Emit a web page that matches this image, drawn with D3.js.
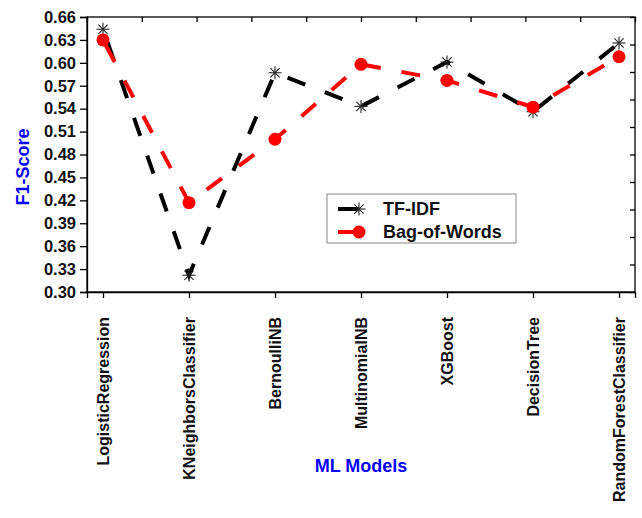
<!DOCTYPE html>
<html>
<head>
<meta charset="utf-8">
<script src="https://cdn.jsdelivr.net/npm/d3@7"></script>
<style>
  body { margin: 0; background: #fff; }
  svg text { font-family: "Liberation Sans", Arial, sans-serif; font-weight: bold; }
</style>
</head>
<body>
<div id="chart"></div>
<script>
// valores
const models = ['LogisticRegression', 'KNeighborsClassifier', 'BernoulliNB', 'MultinomialNB', 'XGBoost', 'DecisionTree', 'RandomForestClassifier'];
const tfidf = [0.644, 0.322, 0.587, 0.543, 0.601, 0.536, 0.626];
const bow = [0.630, 0.417, 0.500, 0.598, 0.577, 0.542, 0.608];
const yTicks = [0.30, 0.33, 0.36, 0.39, 0.42, 0.45, 0.48, 0.51, 0.54, 0.57, 0.60, 0.63, 0.66];

const width = 642;
const height = 518;
const margin = { top: 17, right: 7, bottom: 226, left: 87 };
const w = width - margin.left - margin.right;
const h = height - margin.top - margin.bottom;

const svg = d3.select('#chart').append('svg')
  .attr('width', width)
  .attr('height', height);

const g = svg.append('g').attr('transform', `translate(${margin.left},${margin.top})`);

const x = d3.scalePoint().domain(models).range([0, w]).padding(0.186);
const y = d3.scaleLinear().domain([0.30, 0.66]).range([h, 0]);

// marco con ticks interiores arriba y a la derecha
const frame = d3.scaleLinear().domain([0, 10]).range([0, w]);
const frameY = d3.scaleLinear().domain([0, 10]).range([h, 0]);

g.append('g')
  .call(d3.axisTop(frame).ticks(10).tickSize(-5).tickFormat(''))
  .call((s) => s.select('.domain').remove());
g.append('g')
  .attr('transform', `translate(${w},0)`)
  .call(d3.axisRight(frameY).ticks(10).tickSize(-5).tickFormat(''))
  .call((s) => s.select('.domain').remove());

g.append('rect')
  .attr('width', w)
  .attr('height', h)
  .attr('fill', 'none')
  .attr('stroke', '#000')
  .attr('stroke-width', 1.3);

const yAxis = g.append('g')
  .call(d3.axisLeft(y).tickValues(yTicks).tickSize(7).tickPadding(4).tickFormat(d3.format('.2f')));
yAxis.selectAll('text').attr('font-size', 16.5).attr('fill', '#111');

const xAxis = g.append('g')
  .attr('transform', `translate(0,${h})`)
  .call(d3.axisBottom(x).tickSize(6).tickFormat(''));

g.selectAll('.tick line').attr('stroke-width', 1.3);
g.selectAll('.domain').attr('stroke-width', 1.3);

g.append('g').selectAll('text')
  .data(models)
  .join('text')
  .attr('transform', (d) => `translate(${x(d)},${h + 25}) rotate(-90)`)
  .attr('text-anchor', 'end')
  .attr('dy', '0.35em')
  .attr('font-size', 16)
  .attr('fill', '#111')
  .text((d) => d);

// titulos
svg.append('text')
  .attr('transform', `translate(23,${margin.top + 150}) rotate(-90)`)
  .attr('text-anchor', 'middle')
  .attr('dy', '0.35em')
  .attr('font-size', 18)
  .attr('fill', '#0000ff')
  .text('F1-Score');

svg.append('text')
  .attr('x', 361)
  .attr('y', 472)
  .attr('text-anchor', 'middle')
  .attr('font-size', 18)
  .attr('fill', '#0000ff')
  .text('ML Models');

// lineas
const line = d3.line().x((d, i) => x(models[i])).y((d) => y(d));

g.append('path')
  .datum(tfidf)
  .attr('d', line)
  .attr('fill', 'none')
  .attr('stroke', '#000')
  .attr('stroke-width', 4)
  .attr('stroke-dasharray', '19,21')
  .attr('stroke-dashoffset', -14);

function star(sel, r) {
  [0, 45, 90, 135].forEach((a) => {
    const rad = a * Math.PI / 180;
    sel.append('line')
      .attr('x1', -r * Math.cos(rad)).attr('y1', -r * Math.sin(rad))
      .attr('x2', r * Math.cos(rad)).attr('y2', r * Math.sin(rad))
      .attr('stroke', '#222')
      .attr('stroke-width', 1.1);
  });
}

g.append('g').selectAll('g')
  .data(tfidf)
  .join('g')
  .attr('transform', (d, i) => `translate(${x(models[i])},${y(d)})`)
  .each(function () { star(d3.select(this), 6.5); });

g.append('path')
  .datum(bow)
  .attr('d', line)
  .attr('fill', 'none')
  .attr('stroke', '#ff0000')
  .attr('stroke-width', 4)
  .attr('stroke-dasharray', '19,21')
  .attr('stroke-dashoffset', -6);

g.append('g').selectAll('circle')
  .data(bow)
  .join('circle')
  .attr('cx', (d, i) => x(models[i]))
  .attr('cy', (d) => y(d))
  .attr('r', 6.5)
  .attr('fill', '#ff0000');

// leyenda
const legend = svg.append('g').attr('transform', 'translate(327,194)');
legend.append('rect')
  .attr('width', 189)
  .attr('height', 49)
  .attr('fill', '#fff')
  .attr('stroke', '#888')
  .attr('stroke-width', 1);

const items = [
  { name: 'TF-IDF', color: '#000', y: 15 },
  { name: 'Bag-of-Words', color: '#ff0000', y: 38 }
];
items.forEach((it, i) => {
  legend.append('line')
    .attr('x1', 11).attr('x2', 32)
    .attr('y1', it.y).attr('y2', it.y)
    .attr('stroke', it.color)
    .attr('stroke-width', 4);
  if (i === 0) {
    star(legend.append('g').attr('transform', `translate(32,${it.y})`), 6.5);
  } else {
    legend.append('circle').attr('cx', 32).attr('cy', it.y).attr('r', 6.5).attr('fill', it.color);
  }
  legend.append('text')
    .attr('x', 56)
    .attr('y', it.y)
    .attr('dy', '0.35em')
    .attr('font-size', 18)
    .attr('fill', '#111')
    .text(it.name);
});
</script>
</body>
</html>
